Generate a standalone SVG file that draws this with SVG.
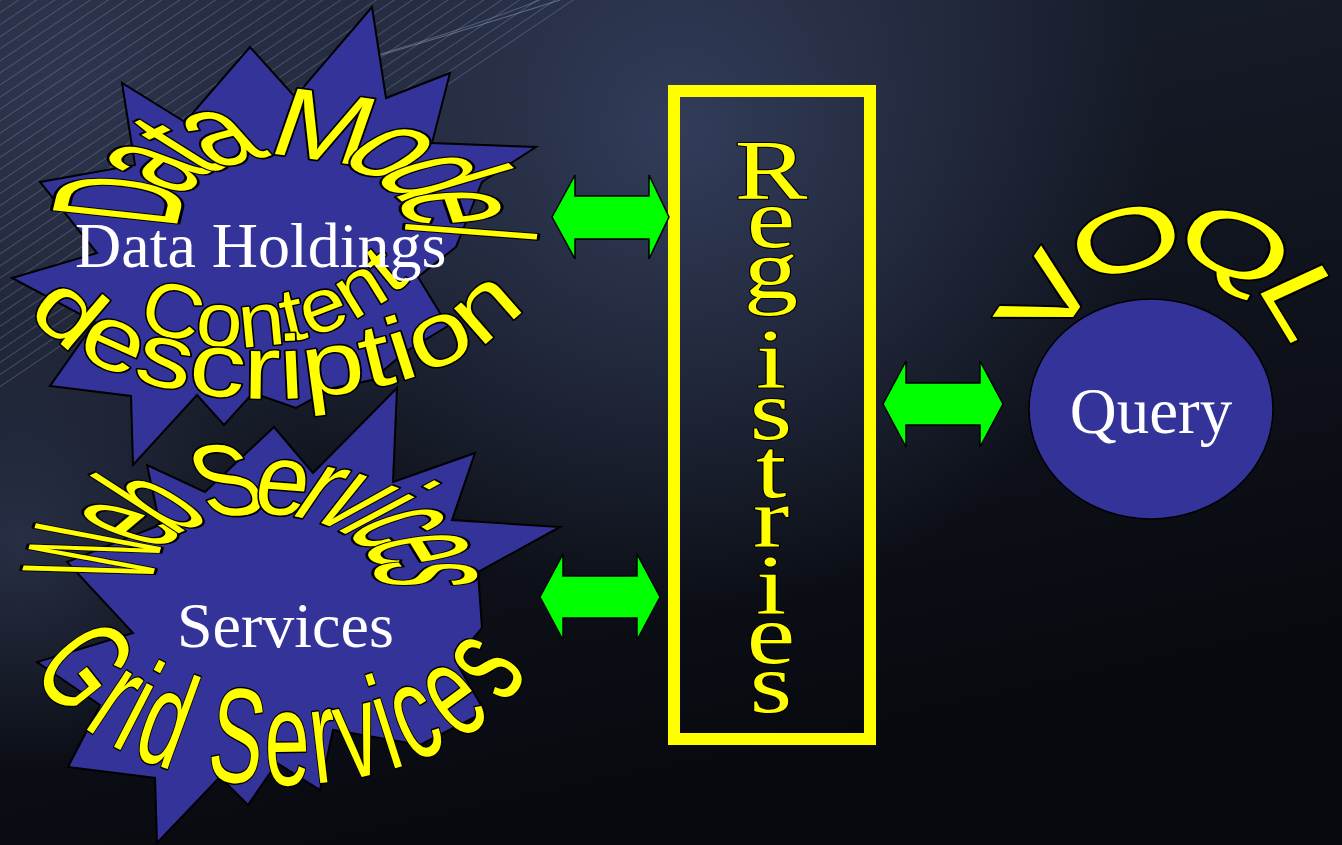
<svg xmlns="http://www.w3.org/2000/svg" width="1342" height="845" viewBox="0 0 1342 845">
<style>
 .star{fill:#333399;stroke:#000;stroke-width:2;stroke-linejoin:miter;}
 .wa{font-family:"Liberation Sans",Arial,sans-serif;fill:#ffff00;stroke:#000;stroke-width:3;paint-order:stroke;stroke-linejoin:round;vector-effect:non-scaling-stroke;}
 .lbl{font-family:"Liberation Serif","Times New Roman",serif;fill:#ffffff;}
 .reg{font-family:"Liberation Serif","Times New Roman",serif;fill:#ffff00;stroke:#000;stroke-width:2;paint-order:stroke;font-size:85px;text-anchor:middle;}
 .arrow{fill:#00ff00;stroke:#000;stroke-width:1.5;stroke-linejoin:miter;}
</style>
<defs>
 <linearGradient id="bgBase" x1="0" y1="0" x2="0.35" y2="1">
  <stop offset="0" stop-color="#1c2232"/>
  <stop offset="1" stop-color="#07090e"/>
 </linearGradient>
 <radialGradient id="glowA" cx="680" cy="130" r="480" gradientUnits="userSpaceOnUse">
  <stop offset="0" stop-color="#343e5c" stop-opacity="0.95"/>
  <stop offset="1" stop-color="#343e5c" stop-opacity="0"/>
 </radialGradient>
 <radialGradient id="glowB" cx="60" cy="80" r="480" gradientUnits="userSpaceOnUse">
  <stop offset="0" stop-color="#2e3750" stop-opacity="0.95"/>
  <stop offset="1" stop-color="#2e3750" stop-opacity="0"/>
 </radialGradient>
 <radialGradient id="glowC" cx="20" cy="540" r="230" gradientUnits="userSpaceOnUse">
  <stop offset="0" stop-color="#2a3249" stop-opacity="0.9"/>
  <stop offset="1" stop-color="#2a3249" stop-opacity="0"/>
 </radialGradient>
 <pattern id="streaks" width="10" height="10" patternUnits="userSpaceOnUse" patternTransform="rotate(-34)">
  <line x1="0" y1="0.5" x2="10" y2="0.5" stroke="#b4c0dc" stroke-width="1"/>
 </pattern>
 <path id="pArch" d="M -84.7 14.9 A 86 86 0 1 1 84.7 14.9"/>
 <path id="pVOQL" d="M -129 0 A 129 129 0 0 1 129 0"/>
 <path id="pContent" d="M 137 325 A 252 252 0 0 0 420 271"/>
 <path id="pDesc" d="M 28 312 C 125 437 460 425 535 290"/>
 <path id="pGrid" d="M 70.7 638.2 A 215 126 0 0 0 491.3 638.2"/>
</defs>

<g id="background">
 <rect width="1342" height="845" fill="url(#bgBase)"/>
 <rect width="1342" height="845" fill="url(#glowA)"/>
 <rect width="1342" height="845" fill="url(#glowB)"/>
 <rect width="1342" height="845" fill="url(#glowC)"/>
 <polygon points="0,0 580,0 0,390" fill="url(#streaks)" opacity="0.24"/>
 <path d="M 330 70 Q 450 35 560 0" fill="none" stroke="#9aabd0" stroke-width="1" opacity="0.5"/>
 <path d="M 360 60 Q 470 28 540 0" fill="none" stroke="#9aabd0" stroke-width="1" opacity="0.4"/>
</g>

<g id="data-holdings">
 <polygon class="star" points="372,7 386,98 450,73 432,143 536,147 482,182 456,247 418,277 448,326 405,352 372,380 333,388 296,408 253,393 224,425 197,395 133,465 131,396 50,386 95,322 12,278 97,253 40,182 135,165 122,83 185,122 250,47 295,97"/>
 <g transform="translate(293,218) rotate(3) scale(2.05,1.1)">
  <text class="wa" font-size="89" dominant-baseline="central"><textPath href="#pArch" startOffset="3" textLength="292" lengthAdjust="spacingAndGlyphs">Data Model</textPath></text>
 </g>
 <text class="wa" font-size="76"><textPath href="#pContent" textLength="292" lengthAdjust="spacingAndGlyphs">Content</textPath></text>
 <text class="wa" font-size="90"><textPath href="#pDesc" textLength="545" lengthAdjust="spacingAndGlyphs">description</textPath></text>
 <text class="lbl" x="75" y="267" font-size="64">Data Holdings</text>
</g>

<g id="services">
 <polygon class="star" points="397,388 393,482 475,453 452,520 560,527 478,572 482,628 455,660 485,712 420,745 333,730 320,790 277,763 248,805 220,777 157,843 155,778 68,767 100,705 37,662 133,633 67,562 160,525 147,465 205,492 274,427 313,473"/>
 <g transform="translate(266,573) rotate(2) scale(2.05,1.1)">
  <text class="wa" font-size="92" dominant-baseline="central"><textPath href="#pArch" startOffset="5" textLength="287" lengthAdjust="spacingAndGlyphs">Web Services</textPath></text>
 </g>
 <text class="wa" font-size="135" dominant-baseline="central"><textPath href="#pGrid" textLength="485" lengthAdjust="spacingAndGlyphs">Grid Services</textPath></text>
 <text class="lbl" x="177" y="647" font-size="64">Services</text>
</g>

<g id="registries">
 <rect x="674" y="91" width="196" height="648" fill="none" stroke="#ffff00" stroke-width="12"/>
 <g transform="translate(771,0) scale(1.28,1)">
  <text class="reg"><tspan x="0" y="199">R</tspan><tspan x="0" y="247">e</tspan><tspan x="0" y="298">g</tspan><tspan x="0" y="388">i</tspan><tspan x="0" y="439">s</tspan><tspan x="0" y="497">t</tspan><tspan x="0" y="546">r</tspan><tspan x="0" y="614">i</tspan><tspan x="0" y="663">e</tspan><tspan x="0" y="712">s</tspan></text>
 </g>
</g>

<g id="query">
 <ellipse cx="1151" cy="409" rx="122" ry="110" fill="#333399" stroke="#000" stroke-width="1.5"/>
 <g transform="translate(1174,362) scale(1.15,1)">
  <text class="wa" font-size="88" dominant-baseline="central"><textPath href="#pVOQL" startOffset="27" textLength="350" lengthAdjust="spacingAndGlyphs">VOQL</textPath></text>
 </g>
 <text class="lbl" x="1151" y="433" font-size="65" text-anchor="middle">Query</text>
</g>

<g id="connectors">
 <polygon class="arrow" points="552,217 575,175 575,196 649,196 649,175 669,217 649,259 649,239 575,239 575,259"/>
 <polygon class="arrow" points="540,597 563,554 563,576 637,576 637,554 660,597 637,640 637,618 563,618 563,640"/>
 <polygon class="arrow" points="883,404 906,361 906,383 980,383 980,361 1003,404 980,447 980,425 906,425 906,447"/>
</g>
</svg>
